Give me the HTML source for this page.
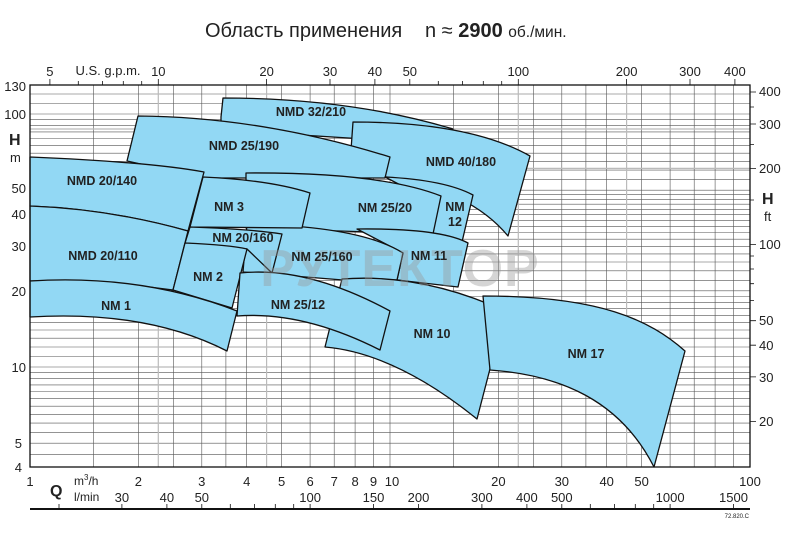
<!DOCTYPE html>
<html><head><meta charset="utf-8"><style>
html,body{margin:0;padding:0;background:#fff;}
svg{display:block;}
text{font-family:"Liberation Sans","DejaVu Sans",sans-serif;fill:#222;}
.lb{font-weight:bold;font-size:12.5px;text-anchor:middle;}
.ax{font-size:13px;}
</style></head><body>
<svg width="800" height="538" viewBox="0 0 800 538" xmlns="http://www.w3.org/2000/svg">
<text x="205" y="37" style="font-size:20px">Область применения</text>
<text x="425" y="37" style="font-size:20px">n ≈ <tspan style="font-weight:bold">2900</tspan> <tspan style="font-size:15.5px">об./мин.</tspan></text>

<g stroke="#555" stroke-width="0.6">
<path d="M93.4,85V467M138.4,85V467M173.3,85V467M201.8,85V467M225.9,85V467M246.7,85V467M281.6,85V467M310.1,85V467M334.2,85V467M355.1,85V467M373.5,85V467M390,85V467M453.4,85V467M498.4,85V467M533.3,85V467M561.8,85V467M585.9,85V467M606.7,85V467M641.6,85V467M670.1,85V467M694.2,85V467M715.1,85V467M733.5,85V467"/>
<path d="M30,454.7H750M30,443.2H750M30,432.7H750M30,423.1H750M30,414.3H750M30,406.2H750M30,398.6H750M30,391.5H750M30,384.9H750M30,378.6H750M30,372.6H750M30,367H750M30,356.5H750M30,347H750M30,338.2H750M30,330H750M30,322.4H750M30,315.4H750M30,308.7H750M30,302.4H750M30,296.5H750M30,290.8H750M30,280.4H750M30,270.8H750M30,262H750M30,253.9H750M30,246.3H750M30,239.2H750M30,232.5H750M30,226.3H750M30,220.3H750M30,214.7H750M30,209.3H750M30,204.2H750M30,199.4H750M30,194.6H750M30,190.2H750M30,179.7H750M30,170.1H750M30,161.3H750M30,153.2H750M30,145.6H750M30,138.5H750M30,131.9H750M30,125.6H750M30,119.6H750M30,114H750M30,103.5H750M30,94H750"/>
</g>
<g stroke="#bbb" stroke-width="1.2">
<path d="M158.3,85V467M266.6,85V467M518.3,85V467M626.6,85V467M30,168.4H750M30,129H750"/>
</g>

<g fill="#92d8f4" stroke="#111" stroke-width="1.3" stroke-linejoin="round">
<path d="M221,117 L223,98 Q350,98 453,129 L380,140 L221,130 Z"/>
<path d="M353,122 Q470,122 530,156 L508,236 Q470,190 387,177 L349,178 Z"/>
<path d="M127,161 L138,116 Q262,117 390,157 L385,178 L204,178 Z"/>
<path d="M385,177 Q445,180 473,195 L462,242 L420,236 L410,190 Z"/>
<path d="M246,173 Q380,172 441,196 L433,234 L246,228 Z"/>
<path d="M357,229 Q440,228 468,243 L458,287 L397,280 L403,253 Z"/>
<path d="M247,224 Q360,226 403,253 L397,280 L343,280 L243,272 Z"/>
<path d="M203,177 Q270,180 310,193 L302,228 L190,227 Z"/>
<path d="M30,157 Q150,162 204,172 L188,231 Q110,209 30,206 Z"/>
<path d="M190,227 Q250,229 282,234 L272,273 L247,249 L185,243 Z"/>
<path d="M30,206 Q110,209 188,231 L173,290 Q100,280 30,281 Z"/>
<path d="M185,243 Q230,245 247,249 L232,308 L173,290 Z"/>
<path d="M342,279 Q422,273 505,311 L477,419 Q395,353 325,347 Z"/>
<path d="M240,273 Q307,266 390,311 L380,350 Q303,311 237,316 Z"/>
<path d="M30,281 Q142,274 237,311 L227,351 Q147,310 30,317 Z"/>
<path d="M483,296 C600,296 650,320 685,351 L654,467 C620,400 560,375 490,370 Z"/>
</g>

<text x="400" y="286" style="font-size:52px;font-weight:bold;fill:#999;opacity:0.4;text-anchor:middle;letter-spacing:1px">РУТЕКТОР</text>

<text class="lb" x="311" y="116">NMD 32/210</text>
<text class="lb" x="244" y="150">NMD 25/190</text>
<text class="lb" x="461" y="166">NMD 40/180</text>
<text class="lb" x="102" y="185">NMD 20/140</text>
<text class="lb" x="229" y="211">NM 3</text>
<text class="lb" x="385" y="212">NM 25/20</text>
<text class="lb" x="455" y="211">NM</text>
<text class="lb" x="455" y="226">12</text>
<text class="lb" x="243" y="242">NM 20/160</text>
<text class="lb" x="322" y="261">NM 25/160</text>
<text class="lb" x="429" y="260">NM 11</text>
<text class="lb" x="103" y="260">NMD 20/110</text>
<text class="lb" x="208" y="281">NM 2</text>
<text class="lb" x="116" y="310">NM 1</text>
<text class="lb" x="298" y="309">NM 25/12</text>
<text class="lb" x="432" y="338">NM 10</text>
<text class="lb" x="586" y="358">NM 17</text>

<rect x="30" y="85" width="720" height="382" fill="none" stroke="#111" stroke-width="1.3"/>

<g class="ax" text-anchor="end">
<text x="26" y="91">130</text><text x="26" y="119">100</text>
<text x="26" y="193">50</text><text x="26" y="219">40</text>
<text x="26" y="251">30</text><text x="26" y="296">20</text>
<text x="26" y="372">10</text><text x="22" y="448">5</text><text x="22" y="472">4</text>
</g>
<text x="9" y="145" style="font-size:16px;font-weight:bold">H</text>
<text x="10" y="162" style="font-size:13px">m</text>

<g stroke="#111" stroke-width="0.8">
<path d="M750,92H756M750,124H756M750,168.4H756M750,244.5H756M750,320.7H756M750,345.2H756M750,376.9H756M750,421.4H756M750,107H754M750,144.5H754M750,200H754M750,256H754M750,269H754M750,283.7H754M750,300.6H754"/>
</g>
<g class="ax">
<text x="759" y="96">400</text><text x="759" y="129">300</text>
<text x="759" y="173">200</text><text x="759" y="249">100</text>
<text x="759" y="325">50</text><text x="759" y="350">40</text>
<text x="759" y="382">30</text><text x="759" y="426">20</text>
</g>
<text x="762" y="204" style="font-size:16px;font-weight:bold">H</text>
<text x="764" y="221" style="font-size:13px">ft</text>

<g stroke="#111" stroke-width="0.8">
<path d="M49.9,79V85M78.3,81V85M102.4,81V85M123.3,81V85M141.7,81V85M158.3,79V85M266.6,79V85M330,79V85M374.9,79V85M409.8,79V85M438.3,81V85M462.4,81V85M483.3,81V85M501.7,81V85M518.3,79V85M626.6,79V85M690,79V85M734.9,79V85"/>
</g>
<g class="ax" text-anchor="middle">
<text x="49.9" y="76">5</text><text x="158.3" y="76">10</text><text x="266.6" y="76">20</text>
<text x="330" y="76">30</text><text x="374.9" y="76">40</text><text x="409.8" y="76">50</text>
<text x="518.3" y="76">100</text><text x="626.6" y="76">200</text><text x="690" y="76">300</text><text x="734.9" y="76">400</text>
<text x="108" y="75">U.S. g.p.m.</text>
</g>

<g class="ax" text-anchor="middle">
<text x="30" y="486">1</text><text x="138.4" y="486">2</text><text x="201.8" y="486">3</text>
<text x="246.7" y="486">4</text><text x="281.6" y="486">5</text><text x="310.1" y="486">6</text>
<text x="334.2" y="486">7</text><text x="355.1" y="486">8</text><text x="373.5" y="486">9</text>
<text x="392" y="486">10</text><text x="498.4" y="486">20</text><text x="561.8" y="486">30</text>
<text x="606.7" y="486">40</text><text x="641.6" y="486">50</text><text x="750" y="486">100</text>
<text x="121.9" y="502">30</text><text x="166.9" y="502">40</text><text x="201.8" y="502">50</text>
<text x="310.1" y="502">100</text><text x="373.5" y="502">150</text><text x="418.5" y="502">200</text>
<text x="481.9" y="502">300</text><text x="526.9" y="502">400</text><text x="561.8" y="502">500</text>
<text x="670.1" y="502">1000</text><text x="733.5" y="502">1500</text>
</g>
<text x="50" y="496" style="font-size:16px;font-weight:bold">Q</text>
<text x="74" y="485" style="font-size:12px">m<tspan dy="-5" style="font-size:8px">3</tspan><tspan dy="5">/h</tspan></text>
<text x="74" y="501" style="font-size:12px">l/min</text>
<g stroke="#111" stroke-width="0.8">
<path d="M59,504V509M121.9,504V509M166.9,504V509M201.8,504V509M230.3,504V509M254.4,504V509M275.3,504V509M293.7,504V509M310.1,504V509M373.5,504V509M418.5,504V509M481.9,504V509M526.9,504V509M561.8,504V509M590.3,504V509M614.4,504V509M635.3,504V509M653.7,504V509M670.1,504V509M733.5,504V509"/>
</g>
<line x1="30" y1="509" x2="750" y2="509" stroke="#111" stroke-width="2"/>
<text x="749" y="518" style="font-size:6px;text-anchor:end">72.820.C</text>
</svg>
</body></html>
